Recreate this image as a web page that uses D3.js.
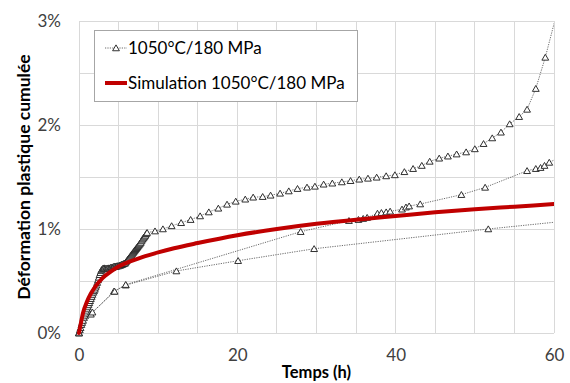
<!DOCTYPE html>
<html><head><meta charset="utf-8">
<script src="https://cdn.jsdelivr.net/npm/d3@7"></script>
<style>body{margin:0;background:#fff}svg{display:block}</style>
</head><body>
<svg id="c" width="570" height="383"></svg>
<script>
// ---- Data ----
const xTicks = [0, 20, 40, 60];
const yTicks = [0, 1, 2, 3];
const seriesNames = ["1050°C/180 MPa", "Simulation 1050°C/180 MPa"];

// Experimental: dense early record [time h, strain %]
const expDense = [
  [0,0],[0.1,0.03],[0.2,0.05],[0.3,0.08],[0.4,0.1],[0.5,0.12],[0.6,0.15],[0.7,0.17],[0.8,0.19],[0.9,0.21],
  [1.0,0.23],[1.1,0.25],[1.2,0.27],[1.3,0.29],[1.4,0.31],[1.5,0.33],[1.6,0.35],[1.7,0.37],[1.8,0.39],[1.9,0.405],
  [2.0,0.42],[2.1,0.44],[2.2,0.46],[2.3,0.485],[2.4,0.51],[2.5,0.535],[2.6,0.56],[2.7,0.58],[2.8,0.6],[2.9,0.61],
  [3.0,0.62],[3.1,0.62],[3.2,0.625],[3.3,0.62],[3.4,0.62],[3.5,0.62],[3.6,0.62],[3.7,0.625],[3.8,0.62],[3.9,0.625],
  [4.0,0.63],[4.1,0.63],[4.2,0.63],[4.3,0.635],[4.4,0.64],[4.5,0.64],[4.6,0.64],[4.7,0.64],[4.8,0.645],[4.9,0.645],
  [5.0,0.645],[5.1,0.65],[5.2,0.65],[5.3,0.655],[5.4,0.66],[5.5,0.66],[5.6,0.665],[5.7,0.67],[5.8,0.67],[5.9,0.68],
  [6.0,0.69],[6.1,0.7],[6.2,0.71],[6.3,0.72],[6.4,0.73],[6.5,0.74],[6.6,0.75],[6.7,0.76],[6.8,0.77],[6.9,0.78],
  [7.0,0.79],[7.1,0.8],[7.2,0.81],[7.3,0.82],[7.4,0.83],[7.5,0.84],[7.6,0.85],[7.7,0.86],[7.8,0.87],[7.9,0.885],
  [8.0,0.9],[8.1,0.91],[8.2,0.92],[8.3,0.93],[8.4,0.94],[8.5,0.955],[8.6,0.965]
];
// Experimental: main creep curve after the dense record
const expMainT = [9.6,10.6,11.7,12.9,14.1,15.3,16.4,17.6,18.7,19.8,21.0,22.0,23.2,24.2,25.4,26.5,27.6,28.8,29.8,30.9,32.0,33.2,34.3,35.4,36.5,37.6,38.8,39.9,41.1,42.2,43.3,44.3,45.5,46.6,47.7,48.9,50.0,51.1,52.2,53.3,54.4,55.6,56.6,57.7,58.9,60.3];
const expMainV = [0.98,1.0,1.03,1.06,1.09,1.125,1.163,1.199,1.237,1.266,1.286,1.305,1.311,1.324,1.343,1.365,1.388,1.401,1.41,1.43,1.44,1.452,1.464,1.478,1.487,1.497,1.51,1.52,1.55,1.58,1.61,1.65,1.68,1.7,1.72,1.74,1.77,1.82,1.875,1.93,2.01,2.08,2.15,2.35,2.65,3.06];

// Experimental: sparse lower record
const expLowT = [0,1.5,4.4,5.9,12.3,20.1,29.7,51.7,62];
const expLowV = [0,0.18,0.4,0.46,0.596,0.695,0.81,1.0,1.08];

// Experimental: sparse middle record
const expMidT = [0,1.7,4.5,5.9,28.0,34.1,35.3,35.9,36.4,37.7,38.2,38.8,39.3,40.8,41.3,41.7,43.1,48.3,51.3,56.6,57.7,58.3,58.8,59.4,61];
const expMidV = [0,0.2,0.4,0.465,0.974,1.08,1.09,1.1,1.11,1.15,1.157,1.163,1.17,1.19,1.21,1.22,1.24,1.33,1.4,1.56,1.58,1.59,1.61,1.64,1.7];

// Simulation
const simT = [0,0.25,0.5,1,1.5,2,3,4,5,6,8,10,12,15,20,25,30,35,40,45,50,55,60];
const simV = [0,0.1,0.19,0.3,0.38,0.44,0.53,0.59,0.64,0.675,0.73,0.775,0.815,0.865,0.94,1.0,1.05,1.09,1.125,1.16,1.19,1.215,1.24];

// ---- Chart ----
const svg = d3.select("#c");
const x = d3.scaleLinear().domain([0, 60]).range([79, 554]);
const y = d3.scaleLinear().domain([0, 3]).range([333, 21]);
const font = "Lato, 'Open Sans', sans-serif";

svg.append("defs").append("clipPath").attr("id", "clip")
  .append("rect").attr("x", x(0) - 6).attr("y", y(3)).attr("width", x(60) - x(0) + 6).attr("height", y(0) - y(3) + 6);

// gridlines
const grid = svg.append("g");
grid.selectAll("line.v").data(d3.range(0, 61, 5)).join("line")
  .attr("x1", d => x(d)).attr("x2", d => x(d)).attr("y1", y(0)).attr("y2", y(3))
  .attr("stroke", "#d9d9d9").attr("stroke-width", 1).attr("shape-rendering", "crispEdges");
grid.selectAll("line.h").data(d3.range(0, 3.01, 0.5)).join("line")
  .attr("y1", d => y(d)).attr("y2", d => y(d)).attr("x1", x(0)).attr("x2", x(60))
  .attr("stroke", "#d9d9d9").attr("stroke-width", 1).attr("shape-rendering", "crispEdges");

// axes (labels only)
const xAxis = svg.append("g").attr("transform", `translate(0,${y(0)})`)
  .call(d3.axisBottom(x).tickValues(xTicks).tickSize(0).tickPadding(16));
xAxis.select(".domain").remove();
xAxis.selectAll("text").attr("font-family", font).attr("font-size", 17).attr("fill", "#404040");
const yAxis = svg.append("g").attr("transform", `translate(${x(0)},0)`)
  .call(d3.axisLeft(y).tickValues(yTicks).tickSize(0).tickPadding(18).tickFormat(d => d + "%"));
yAxis.select(".domain").remove();
yAxis.selectAll("text").attr("font-family", font).attr("font-size", 17).attr("fill", "#404040");

// axis titles
svg.append("text").attr("x", (x(0) + x(60)) / 2).attr("y", 378).attr("text-anchor", "middle")
  .attr("font-family", font).attr("font-size", 16.5).attr("font-weight", "bold").attr("fill", "#000")
  .text("Temps (h)");
svg.append("text").attr("transform", `translate(30,${(y(0) + y(3)) / 2}) rotate(-90)`).attr("text-anchor", "middle")
  .attr("font-family", font).attr("font-size", 17.5).attr("font-weight", "bold").attr("fill", "#000")
  .text("Déformation plastique cumulée");

const plot = svg.append("g").attr("clip-path", "url(#clip)");
const line = d3.line().x(d => x(d[0])).y(d => y(d[1]));
const tri = d3.symbol().type(d3.symbolTriangle).size(20);

const expSets = [
  d3.zip(expLowT, expLowV),
  d3.zip(expMidT, expMidV),
  expDense.concat(d3.zip(expMainT, expMainV))
];
expSets.forEach(pts => {
  plot.append("path").datum(pts).attr("d", line).attr("fill", "none")
    .attr("stroke", "#595959").attr("stroke-width", 0.9).attr("stroke-dasharray", "1.2,1.2");
});
expSets.forEach(pts => {
  plot.append("g").selectAll("path").data(pts).join("path")
    .attr("transform", d => `translate(${x(d[0])},${y(d[1]) + 0.8})`)
    .attr("d", tri).attr("fill", "white").attr("stroke", "#262626").attr("stroke-width", 0.95);
});

// simulation
plot.append("path").datum(d3.zip(simT, simV)).attr("d", d3.line().curve(d3.curveMonotoneX).x(d => x(d[0])).y(d => y(d[1])))
  .attr("fill", "none").attr("stroke", "#c00000").attr("stroke-width", 4).attr("stroke-linecap", "round");

// legend
const lg = svg.append("g");
lg.append("rect").attr("x", 94.5).attr("y", 30.5).attr("width", 263).attr("height", 71)
  .attr("fill", "white").attr("stroke", "#a6a6a6").attr("stroke-width", 1);
lg.append("line").attr("x1", 105).attr("x2", 127).attr("y1", 48).attr("y2", 48)
  .attr("stroke", "#595959").attr("stroke-width", 0.9).attr("stroke-dasharray", "1.2,1.2");
lg.append("path").attr("transform", "translate(116,48.8)").attr("d", tri)
  .attr("fill", "white").attr("stroke", "#262626").attr("stroke-width", 0.95);
lg.append("line").attr("x1", 105).attr("x2", 127).attr("y1", 83).attr("y2", 83)
  .attr("stroke", "#c00000").attr("stroke-width", 4);
lg.selectAll("text.l").data(seriesNames).join("text")
  .attr("x", 128).attr("y", (d, i) => 54 + i * 35)
  .attr("font-family", font).attr("font-size", 17).attr("fill", "#000").text(d => d);
</script>
</body></html>
